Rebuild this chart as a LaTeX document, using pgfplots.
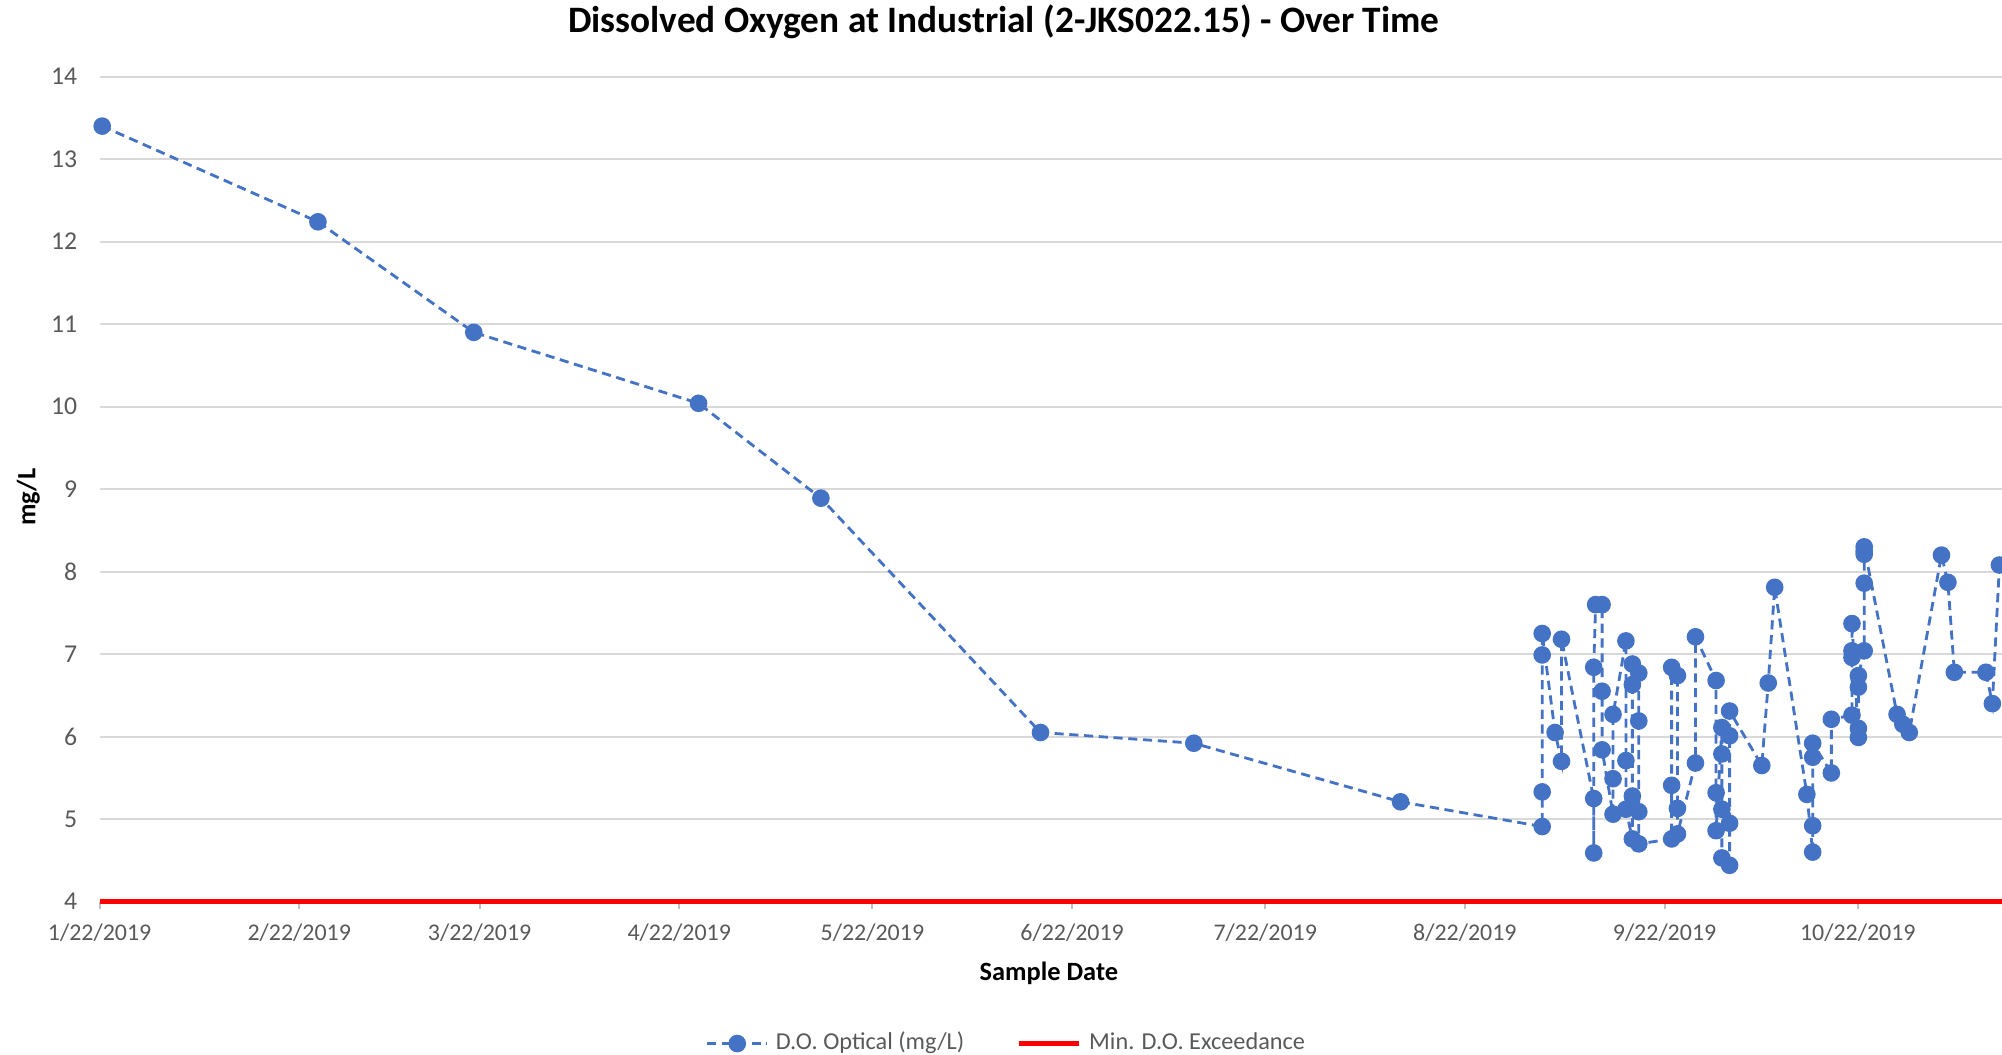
\documentclass[border=0pt]{standalone}
\usepackage{pgfplots}
\usepackage{pgfplotstable}
\pgfplotsset{compat=1.18}
\usepackage{fontspec}
\setmainfont{Carlito}

\definecolor{doblue}{HTML}{4472C4}
\definecolor{txtgray}{HTML}{595959}
\definecolor{gridgray}{HTML}{D9D9D9}

% days since 1/22/2019, D.O. in mg/L
\pgfplotstableread{
day do
0.4 13.40
33.9 12.24
58.1 10.90
93.0 10.04
112.0 8.89
146.1 6.05
169.9 5.92
202.0 5.21
224.0 4.91
224.0 5.33
224.0 6.99
224.0 7.25
226.0 6.05
227.0 5.70
227.0 7.18
232.0 5.25
232.0 4.59
232.0 6.84
232.3 7.60
233.3 7.60
233.3 6.55
233.3 5.84
235.0 5.06
235.0 5.49
235.0 6.27
237.0 7.16
237.0 5.71
237.0 5.12
238.0 4.76
238.0 5.28
238.0 6.63
238.0 6.88
239.0 6.77
239.0 6.19
239.0 5.09
239.0 4.70
244.1 4.76
244.1 5.41
244.1 6.84
245.0 6.74
245.0 5.13
245.0 4.82
247.8 5.68
247.8 7.21
251.0 6.68
251.0 5.32
251.0 4.86
251.9 6.11
251.9 5.79
251.9 5.12
251.9 4.53
253.1 4.44
253.1 4.95
253.1 6.01
253.1 6.31
258.1 5.65
259.1 6.65
260.1 7.81
265.1 5.30
266.0 4.60
266.0 4.92
266.0 5.75
266.0 5.92
268.9 5.56
268.9 6.21
272.1 6.26
272.1 6.96
272.1 7.04
272.1 7.37
273.1 5.99
273.1 6.10
273.1 6.60
273.1 6.74
274.0 7.04
274.0 7.86
274.0 8.21
274.0 8.25
274.0 8.30
279.1 6.27
280.0 6.15
281.0 6.05
286.0 8.20
287.0 7.87
288.0 6.78
292.9 6.78
293.9 6.40
295.0 8.08
}\dotable

\begin{document}
\begin{tikzpicture}
\begin{axis}[
    at={(0,0)}, anchor=south west,
    scale only axis,
    width=19.0cm, height=8.24cm,
    xmin=0, xmax=295.4,
    ymin=4, ymax=14,
    clip=false,
    axis line style={draw=none},
    tick pos=left,
    ytick={4,5,...,14},
    ytick style={draw=none},
    xtick={0,31,59,90,120,151,181,212,243,273},
    xticklabels={1/22/2019,2/22/2019,3/22/2019,4/22/2019,5/22/2019,6/22/2019,7/22/2019,8/22/2019,9/22/2019,10/22/2019},
    xtick align=outside,
    major tick length=2pt,
    xtick style={draw=black!25, line width=0.6pt},
    ymajorgrids,
    grid style={gridgray, line width=0.6pt},
    /pgf/number format/assume math mode=true,
    tick label style={font=\fontsize{6.8}{8}\selectfont, text=txtgray},
    yticklabel style={font=\fontsize{7.3}{8}\selectfont, xshift=-0.1cm},
    xticklabel style={yshift=-0.03cm},
    title={Dissolved Oxygen at Industrial (2-JKS022.15) - Over Time},
    title style={at={(axis description cs:0.4753,1.041)}, anchor=center,
                 font=\bfseries\fontsize{10.6}{12}\selectfont},
    xlabel={Sample Date},
    xlabel style={at={(axis description cs:0.499,-0.087)}, anchor=center,
                  font=\bfseries\fontsize{7.5}{9}\selectfont},
    ylabel={mg/L},
    ylabel style={at={(axis description cs:-0.0374,0.49)}, anchor=center,
                  font=\bfseries\fontsize{7.5}{9}\selectfont},
    legend columns=2,
    legend style={at={(axis description cs:0.478,-0.172)}, anchor=center,
                  draw=none, font=\fontsize{6.9}{8}\selectfont, text=txtgray},
    /tikz/every even column/.append style={column sep=0.45cm},
]
\addplot[doblue, line width=0.8pt, dash pattern=on 2.6pt off 1.6pt,
         mark=*, mark size=2.1pt, mark options={solid, fill=doblue, draw=doblue}]
  table[x=day, y=do] {\dotable};
\addlegendentry{D.O. Optical (mg/L)}

\addplot[red, line width=1.6pt] coordinates {(0,4) (295.4,4)};
\addlegendentry{Min. D.O. Exceedance}
\end{axis}
\pgfresetboundingbox
\useasboundingbox (-0.995cm,-1.531cm) rectangle (19.0cm,9.005cm);
\end{tikzpicture}
\end{document}
